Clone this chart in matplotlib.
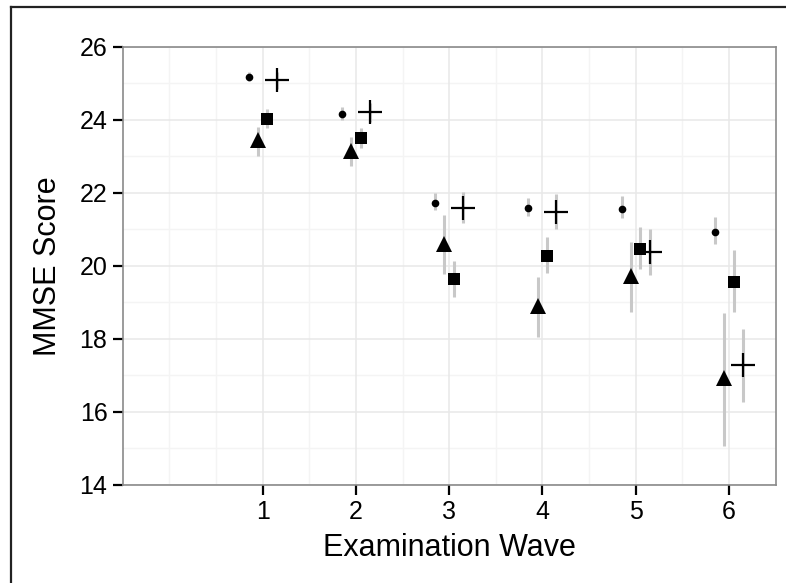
import matplotlib
matplotlib.use("Agg")
import matplotlib.pyplot as plt
from matplotlib.lines import Line2D
import numpy as np

plt.rcParams['font.family'] = ['Liberation Sans', 'DejaVu Sans']

waves = [1, 2, 3, 4, 5, 6]
x_ticks = [1, 2, 3, 4, 5, 6]
y_ticks = [14, 16, 18, 20, 22, 24, 26]

circle_mean = [25.17, 24.16, 21.73, 21.59, 21.57, 20.93]
circle_lo = [25.05, 24.00, 21.53, 21.37, 21.30, 20.59]
circle_hi = [25.30, 24.34, 21.99, 21.87, 21.91, 21.35]

triangle_mean = [23.45, 23.15, 20.60, 18.90, 19.72, 16.93]
triangle_lo = [23.01, 22.73, 19.78, 18.04, 18.73, 15.08]
triangle_hi = [23.81, 23.54, 21.39, 19.70, 20.66, 18.72]

square_mean = [24.03, 23.50, 19.64, 20.28, 20.47, 19.57]
square_lo = [23.77, 23.22, 19.16, 19.80, 19.91, 18.73]
square_hi = [24.29, 23.77, 20.14, 20.78, 21.06, 20.43]

plus_mean = [25.09, 24.20, 21.59, 21.48, 20.39, 17.28]
plus_lo = [24.85, 23.95, 21.17, 21.01, 19.75, 16.28]
plus_hi = [25.30, 24.45, 22.03, 21.97, 21.01, 18.26]

series = [
    (circle_mean, circle_lo, circle_hi, -0.15, 'o', 5.5, 0),
    (triangle_mean, triangle_lo, triangle_hi, -0.05, '^', 11, 0),
    (square_mean, square_lo, square_hi, 0.05, 's', 9, 0),
    (plus_mean, plus_lo, plus_hi, 0.15, '+', 17, 1.6),
]

fig = plt.figure(figsize=(7.86, 5.83), dpi=100)
ax = fig.add_axes([0.1561, 0.1681, 0.9868 - 0.1561, 0.9199 - 0.1681])

ax.set_xlim(-0.5, 6.5)
ax.set_ylim(14, 26)

# grid
for gx in [0, 0.5, 1.5, 2.5, 3.5, 4.5, 5.5]:
    ax.axvline(gx, color='#f4f4f4', lw=1.0, zorder=0)
for gy in [15, 17, 19, 21, 23, 25]:
    ax.axhline(gy, color='#f4f4f4', lw=1.0, zorder=0)
for gx in x_ticks:
    ax.axvline(gx, color='#e8e8e8', lw=1.1, zorder=0)
for gy in y_ticks:
    ax.axhline(gy, color='#e8e8e8', lw=1.1, zorder=0)

for mean, lo, hi, off, mk, ms, mew in series:
    xs = np.array(waves) + off
    ax.vlines(xs, lo, hi, color='#c8c8c8', lw=2.2, zorder=2)
    if mk == '+':
        ax.plot(xs, mean, linestyle='none', marker=mk, markersize=ms,
                markeredgewidth=mew, color='black', zorder=3)
    else:
        ax.plot(xs, mean, linestyle='none', marker=mk, markersize=ms,
                color='black', markeredgewidth=0, zorder=3)

ax.set_xticks(x_ticks)
ax.set_xticklabels([str(v) for v in x_ticks])
ax.set_yticks(y_ticks)
ax.set_yticklabels([str(v) for v in y_ticks])
ax.tick_params(axis='both', length=7, width=1.6, color='black',
               labelsize=18, labelcolor='black')
ax.tick_params(axis='x', pad=4)
ax.tick_params(axis='y', pad=4)

for s in ax.spines.values():
    s.set_color('#8a8a8a')
    s.set_linewidth(1.2)

ax.set_xlabel('Examination Wave', fontsize=22, labelpad=6)
ax.set_ylabel('MMSE Score', fontsize=22, labelpad=12)

# outer frame (top and left lines)
fig.add_artist(Line2D([11 / 786, 1.0], [1 - 6.5 / 583, 1 - 6.5 / 583],
                      transform=fig.transFigure, color='#222222', lw=1.6))
fig.add_artist(Line2D([11 / 786, 11 / 786], [0.0, 1 - 6.5 / 583],
                      transform=fig.transFigure, color='#222222', lw=1.6))

fig.savefig('out.png', dpi=100)
